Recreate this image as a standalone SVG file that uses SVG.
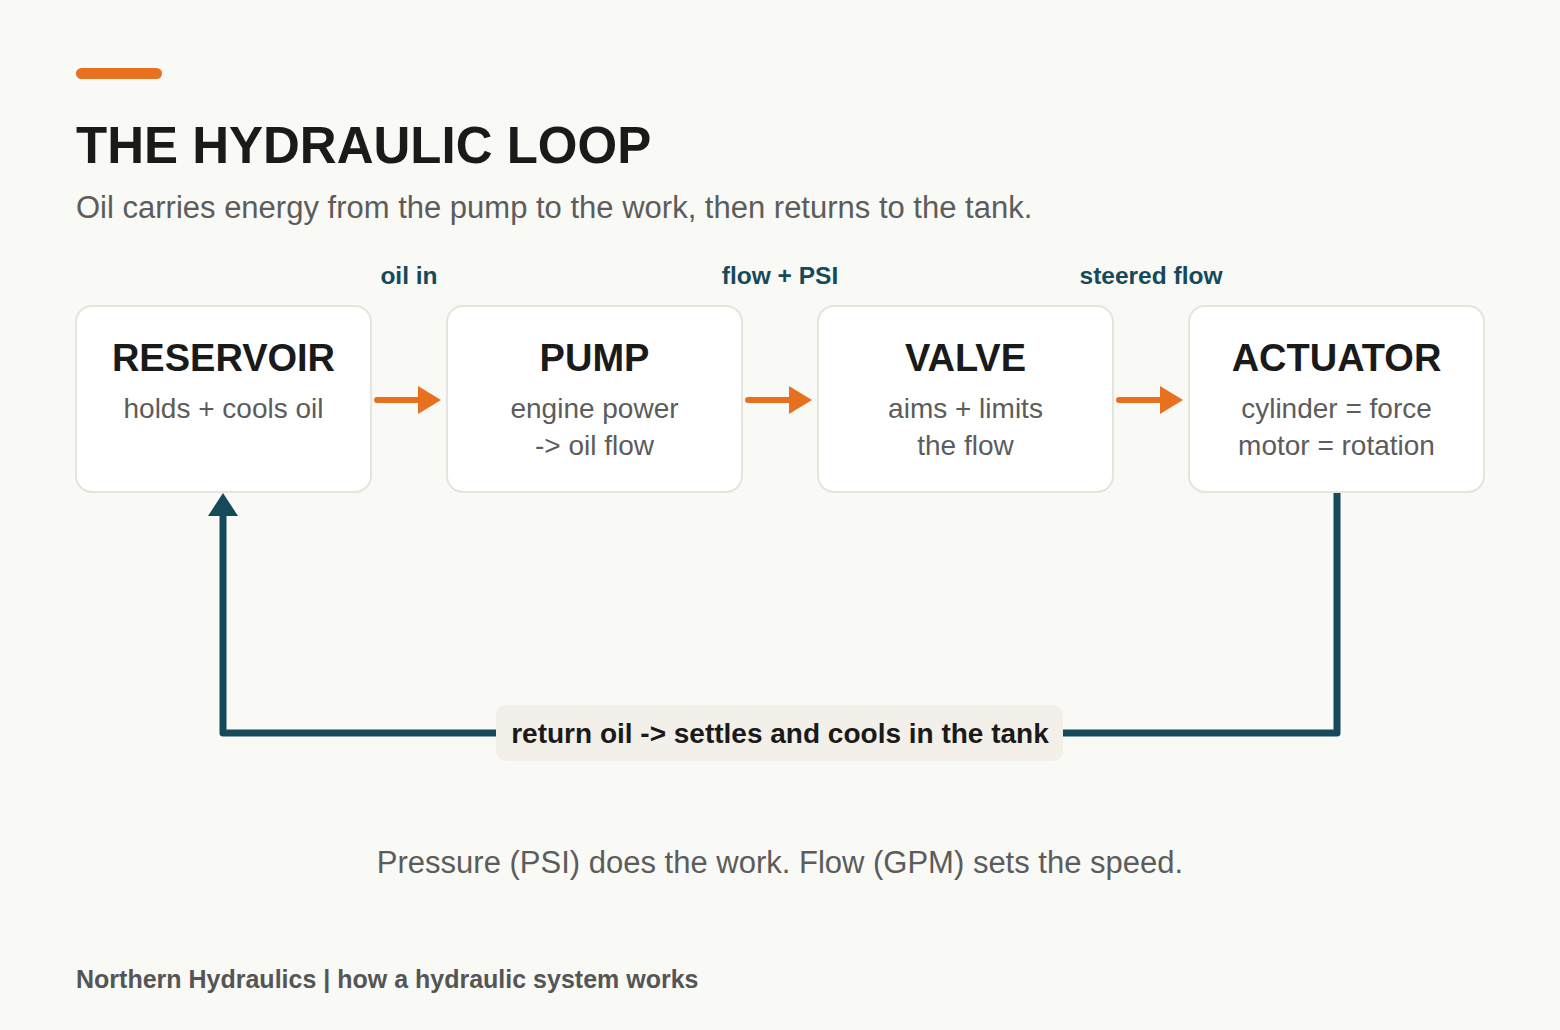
<svg xmlns="http://www.w3.org/2000/svg" width="1560" height="1030" viewBox="0 0 1560 1030">
<defs>
<style>
.bg{fill:#f9f9f6}
.box{fill:#ffffff;stroke:#e6e4de;stroke-width:2}
.ttl{font-family:"Liberation Sans",Arial,sans-serif;font-weight:700;font-size:38px;fill:#1a1a1a;text-anchor:middle}
.sub{font-family:"Liberation Sans",Arial,sans-serif;font-size:28px;fill:#5c5c5c;text-anchor:middle}
.elab{font-family:"Liberation Sans",Arial,sans-serif;font-weight:700;font-size:24.5px;fill:#164a5a;text-anchor:middle}
.flow{stroke:#e8711f;stroke-width:6;stroke-linecap:round;fill:none}
.ret{stroke:#164a5a;stroke-width:7;stroke-linejoin:round;stroke-linecap:round;fill:none}
</style>
</defs>
<rect class="bg" x="0" y="0" width="1560" height="1030"/>
<rect x="76" y="68" width="86" height="11" rx="5.5" fill="#e8711f"/>
<text x="76" y="163" font-family="Liberation Sans,Arial,sans-serif" font-weight="700" font-size="51" fill="#1a1a1a">THE HYDRAULIC LOOP</text>
<text x="76" y="218" font-family="Liberation Sans,Arial,sans-serif" font-size="31" fill="#5c5c5c">Oil carries energy from the pump to the work, then returns to the tank.</text>

<g id="connectors">
<line class="flow" x1="377" y1="400" x2="420" y2="400"/>
<polygon points="418,386 441,400 418,414" fill="#e8711f"/>
<line class="flow" x1="748" y1="400" x2="791" y2="400"/>
<polygon points="789,386 812,400 789,414" fill="#e8711f"/>
<line class="flow" x1="1119" y1="400" x2="1162" y2="400"/>
<polygon points="1160,386 1183,400 1160,414" fill="#e8711f"/>
<text class="elab" x="409" y="284">oil in</text>
<text class="elab" x="780" y="284">flow + PSI</text>
<text class="elab" x="1151" y="284">steered flow</text>
<polyline class="ret" points="1337,493 1337,733 223,733 223,514"/>
<polygon points="208,516 223,493 238,516" fill="#164a5a"/>
<rect x="496" y="705" width="567" height="56" rx="10" fill="#f3f0ea"/>
<text x="780" y="743" font-family="Liberation Sans,Arial,sans-serif" font-weight="700" font-size="28" fill="#1a1a1a" text-anchor="middle">return oil -&gt; settles and cools in the tank</text>
</g>

<g id="reservoir">
<rect class="box" x="76" y="306" width="295" height="186" rx="16"/>
<text class="ttl" x="223.5" y="371">RESERVOIR</text>
<text class="sub" x="223.5" y="418">holds + cools oil</text>
</g>
<g id="pump">
<rect class="box" x="447" y="306" width="295" height="186" rx="16"/>
<text class="ttl" x="594.5" y="371">PUMP</text>
<text class="sub" x="594.5" y="418">engine power</text>
<text class="sub" x="594.5" y="455">-&gt; oil flow</text>
</g>
<g id="valve">
<rect class="box" x="818" y="306" width="295" height="186" rx="16"/>
<text class="ttl" x="965.5" y="371">VALVE</text>
<text class="sub" x="965.5" y="418">aims + limits</text>
<text class="sub" x="965.5" y="455">the flow</text>
</g>
<g id="actuator">
<rect class="box" x="1189" y="306" width="295" height="186" rx="16"/>
<text class="ttl" x="1336.5" y="371">ACTUATOR</text>
<text class="sub" x="1336.5" y="418">cylinder = force</text>
<text class="sub" x="1336.5" y="455">motor = rotation</text>
</g>

<text x="780" y="873" font-family="Liberation Sans,Arial,sans-serif" font-size="31" fill="#5c5c5c" text-anchor="middle">Pressure (PSI) does the work. Flow (GPM) sets the speed.</text>
<text x="76" y="988" font-family="Liberation Sans,Arial,sans-serif" font-weight="700" font-size="25" fill="#555555">Northern Hydraulics | how a hydraulic system works</text>
</svg>
